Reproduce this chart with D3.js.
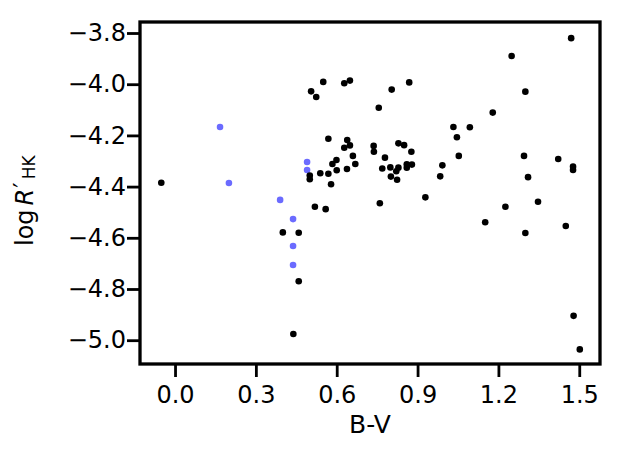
<!DOCTYPE html>
<html><head><meta charset="utf-8">
<script src="https://cdn.jsdelivr.net/npm/d3@7"></script>
<style>body{margin:0;background:#fff}svg{display:block}text{font-family:"DejaVu Sans",sans-serif}</style>
</head><body><svg id="c" width="623" height="449"></svg>
<script>
// Black points: B-V and logR'HK
const blackBV = [-0.051,0.439,0.459,0.400,0.459,0.519,0.559,0.500,0.500,0.579,0.539,0.569,0.584,0.599,0.600,0.669,0.638,0.660,0.569,0.639,0.649,0.628,0.505,0.524,0.550,0.628,0.649,0.737,0.738,0.756,0.760,0.779,0.769,0.799,0.801,0.804,0.821,0.824,0.829,0.829,0.850,0.860,0.860,0.879,0.877,0.869,0.929,0.992,0.984,1.033,1.094,1.046,1.053,1.179,1.151,1.226,1.249,1.300,1.295,1.310,1.347,1.300,1.422,1.450,1.470,1.477,1.477,1.479,1.502];
const blackR = [-4.385,-4.976,-4.770,-4.579,-4.580,-4.479,-4.488,-4.357,-4.371,-4.391,-4.348,-4.350,-4.312,-4.296,-4.336,-4.312,-4.331,-4.280,-4.213,-4.218,-4.239,-4.248,-4.028,-4.050,-3.991,-3.996,-3.986,-4.241,-4.264,-4.092,-4.465,-4.287,-4.329,-4.325,-4.361,-4.021,-4.340,-4.373,-4.326,-4.231,-4.238,-4.313,-4.326,-4.314,-4.264,-3.993,-4.442,-4.317,-4.360,-4.167,-4.168,-4.207,-4.280,-4.111,-4.539,-4.479,-3.890,-4.029,-4.280,-4.363,-4.459,-4.581,-4.292,-4.554,-3.820,-4.322,-4.335,-4.905,-5.036];
// Blue points
const blueBV = [0.167,0.200,0.390,0.438,0.438,0.438,0.490,0.490];
const blueR = [-4.167,-4.386,-4.452,-4.527,-4.632,-4.706,-4.304,-4.335];
const xTicks = [0.0,0.3,0.6,0.9,1.2,1.5];
const yTicks = [-3.8,-4.0,-4.2,-4.4,-4.6,-4.8,-5.0];

const svg = d3.select("#c");
const L=140,R=600,T=22,B=364;
const x = d3.scaleLinear().domain([-0.13,1.577]).range([L,R]);
const y = d3.scaleLinear().domain([-3.757,-5.093]).range([T,B]);

const fmt = d => d3.format(".1f")(d).replace("-","\u2212");
const xa = svg.append("g").attr("transform",`translate(0,${B})`)
  .call(d3.axisBottom(x).tickValues(xTicks).tickFormat(fmt).tickSize(13).tickPadding(9));
const ya = svg.append("g").attr("transform",`translate(${L},0)`)
  .call(d3.axisLeft(y).tickValues(yTicks).tickFormat(fmt).tickSize(13).tickPadding(1));
[xa,ya].forEach(a=>{
  a.select(".domain").remove();
  a.selectAll("line").attr("stroke","#000").attr("stroke-width",2.8);
  a.selectAll("text").attr("font-size",24).attr("fill","#000").attr("font-family","DejaVu Sans");
});

svg.append("g").selectAll("circle").data(blueBV.map((d,i)=>[d,blueR[i]])).join("circle")
  .attr("cx",d=>x(d[0])).attr("cy",d=>y(d[1])).attr("r",3.3).attr("fill","rgb(107,107,255)");
svg.append("g").selectAll("circle").data(blackBV.map((d,i)=>[d,blackR[i]])).join("circle")
  .attr("cx",d=>x(d[0])).attr("cy",d=>y(d[1])).attr("r",3.3).attr("fill","#000");

svg.append("rect").attr("x",L).attr("y",T).attr("width",R-L).attr("height",B-T)
  .attr("fill","none").attr("stroke","#000").attr("stroke-width",3.3);

svg.append("text").attr("x",(L+R)/2).attr("y",433).attr("text-anchor","middle")
  .attr("font-size",25).text("B-V");

const yl = svg.append("text").attr("transform",`translate(33,246) rotate(-90)`)
  .attr("text-anchor","start").attr("font-size",24);
yl.append("tspan").text("log");
yl.append("tspan").attr("font-style","italic").attr("dx",4).text("R");
yl.append("tspan").attr("dx",1).attr("dy",-2).text("\u2032");
yl.append("tspan").attr("font-size",17).attr("dx",3).attr("dy",4).text("HK");
</script></body></html>
